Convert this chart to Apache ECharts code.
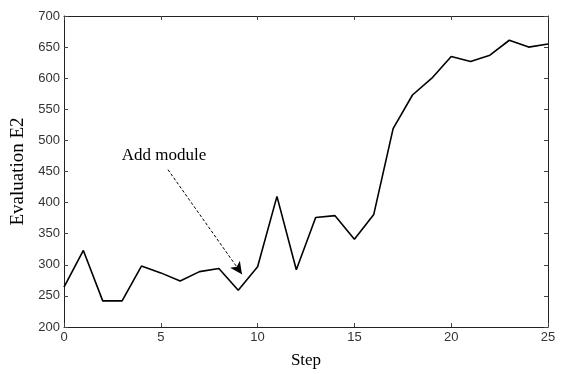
<!DOCTYPE html>
<html><head><meta charset="utf-8">
<script src="https://cdn.jsdelivr.net/npm/echarts@6/dist/echarts.min.js"></script>
<style>html,body{margin:0;padding:0;background:#fff}#c{width:562px;height:374px}</style>
</head><body><div id="c"></div>
<script>
const steps = [0,1,2,3,4,5,6,7,8,9,10,11,12,13,14,15,16,17,18,19,20,21,22,23,24,25];
const evalE2 = [264,323,242,242,298,287,274,289,294,259,297,410,292,376,379,341,381,519,573,600,635,627,637,661,650,655];
const annotationText = 'Add module';
const arrowStart = [5.37,453];
const arrowEnd = [9.19,285];
const textPos = [5.17,475];

const chart = echarts.init(document.getElementById('c'));
const tickLabel = {color:'#333', fontFamily:'Liberation Sans, Arial, sans-serif', fontSize:13};
const axLine = {show:true, onZero:false, lineStyle:{color:'#222', width:1}};
const tick = {show:true, inside:true, length:4, lineStyle:{color:'#444', width:1}};
chart.setOption({
  animation:false,
  grid:{left:64,right:14,top:16,bottom:42},
  xAxis:[{
    type:'value', min:0, max:25, interval:5,
    axisLine:axLine, axisTick:tick,
    axisLabel:Object.assign({margin:4},tickLabel), splitLine:{show:false},
    name:'Step', nameLocation:'middle', nameGap:25,
    nameTextStyle:{fontFamily:'Liberation Serif, Times New Roman, serif', fontSize:17, color:'#000'}
  },{
    type:'value', min:0, max:25, interval:5, position:'top',
    axisLine:axLine, axisTick:tick,
    axisLabel:{show:false}, splitLine:{show:false}
  }],
  yAxis:[{
    type:'value', min:200, max:700, interval:50, position:'left',
    axisLine:axLine, axisTick:tick,
    axisLabel:Object.assign({margin:4},tickLabel), splitLine:{show:false},
    name:'Evaluation E2', nameLocation:'middle', nameGap:31,
    nameTextStyle:{fontFamily:'Liberation Serif, Times New Roman, serif', fontSize:19, color:'#000'}
  },{
    type:'value', min:200, max:700, interval:50, position:'right',
    axisLine:axLine, axisTick:tick,
    axisLabel:{show:false}, splitLine:{show:false}
  }],
  series:[{
    type:'line',
    data:steps.map((s,i)=>[s,evalE2[i]]),
    symbol:'none',
    lineStyle:{color:'#000', width:1.6},
    markLine:{
      silent:true, symbol:['none','arrow'], symbolSize:[9,12],
      lineStyle:{type:[3,2], color:'#000', width:1},
      label:{show:false},
      data:[[{coord:arrowStart},{coord:arrowEnd}]]
    },
    markPoint:{
      silent:true, symbol:'circle', symbolSize:0,
      label:{show:true, formatter:annotationText, color:'#000',
        fontFamily:'Liberation Serif, Times New Roman, serif', fontSize:17, position:'inside'},
      data:[{coord:textPos}]
    }
  }]
});
</script></body></html>
